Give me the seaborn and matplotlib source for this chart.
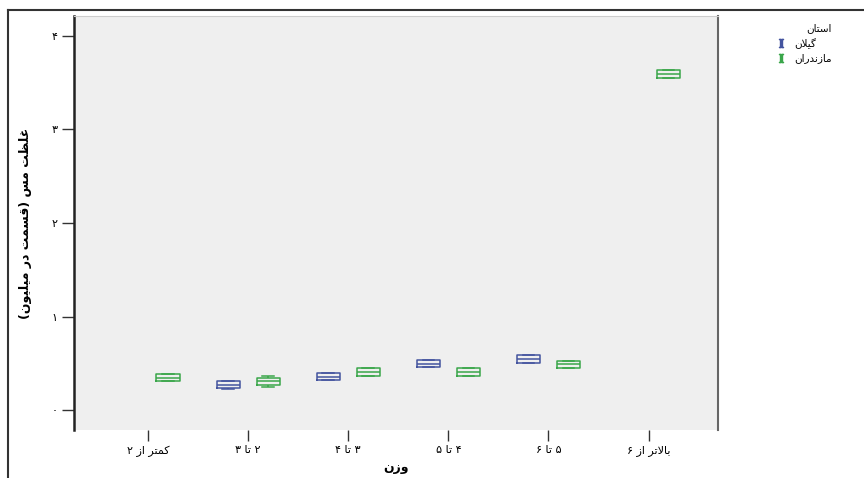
import matplotlib
matplotlib.use("Agg")
import matplotlib.pyplot as plt
from matplotlib.lines import Line2D
import seaborn as sns
import pandas as pd

# --- data (box: min, q1, median, q3, max) ---
weight_groups = ["کمتر از ۲", "۲ تا ۳", "۳ تا ۴", "۴ تا ۵", "۵ تا ۶", "بالاتر از ۶"]
provinces = ["گیلان", "مازندران"]

gilan_boxes = {
    "۲ تا ۳": [0.23, 0.24, 0.27, 0.31, 0.31],
    "۳ تا ۴": [0.32, 0.32, 0.36, 0.40, 0.40],
    "۴ تا ۵": [0.46, 0.46, 0.50, 0.54, 0.54],
    "۵ تا ۶": [0.51, 0.51, 0.55, 0.59, 0.59],
}
mazandaran_boxes = {
    "کمتر از ۲": [0.31, 0.31, 0.35, 0.39, 0.39],
    "۲ تا ۳": [0.25, 0.27, 0.31, 0.35, 0.37],
    "۳ تا ۴": [0.37, 0.37, 0.41, 0.45, 0.45],
    "۴ تا ۵": [0.37, 0.37, 0.41, 0.45, 0.45],
    "۵ تا ۶": [0.45, 0.45, 0.49, 0.53, 0.53],
    "بالاتر از ۶": [3.55, 3.55, 3.59, 3.63, 3.63],
}
y_ticks = [0, 1, 2, 3, 4]
y_ticklabels = ["۰", "۱", "۲", "۳", "۴"]
colors = {"گیلان": "#44549f", "مازندران": "#3aa64a"}

# --- small Persian shaper (matplotlib has no Arabic shaping / bidi) ---
FORMS = {
    "ا": ("\uFE8D", "\uFE8E", None, None),
    "ب": ("\uFE8F", "\uFE90", "\uFE91", "\uFE92"),
    "ت": ("\uFE95", "\uFE96", "\uFE97", "\uFE98"),
    "د": ("\uFEA9", "\uFEAA", None, None),
    "ر": ("\uFEAD", "\uFEAE", None, None),
    "ز": ("\uFEAF", "\uFEB0", None, None),
    "س": ("\uFEB1", "\uFEB2", "\uFEB3", "\uFEB4"),
    "ظ": ("\uFEC5", "\uFEC6", "\uFEC7", "\uFEC8"),
    "غ": ("\uFECD", "\uFECE", "\uFECF", "\uFED0"),
    "ق": ("\uFED5", "\uFED6", "\uFED7", "\uFED8"),
    "ل": ("\uFEDD", "\uFEDE", "\uFEDF", "\uFEE0"),
    "م": ("\uFEE1", "\uFEE2", "\uFEE3", "\uFEE4"),
    "ن": ("\uFEE5", "\uFEE6", "\uFEE7", "\uFEE8"),
    "و": ("\uFEED", "\uFEEE", None, None),
    "ک": ("\uFB8E", "\uFB8F", "\uFB90", "\uFB91"),
    "گ": ("\uFB92", "\uFB93", "\uFB94", "\uFB95"),
    "ی": ("\uFBFC", "\uFBFD", "\uFBFE", "\uFBFF"),
}


def fa(text):
    out = []
    i = 0
    n = len(text)
    while i < n:
        c = text[i]
        if c not in FORMS:
            out.append(c)
            i += 1
            continue
        prev = text[i - 1] if i > 0 else None
        con_prev = prev in FORMS and FORMS[prev][2] is not None
        if c == "ل" and i + 1 < n and text[i + 1] == "ا":
            out.append("\uFEFC" if con_prev else "\uFEFB")
            i += 2
            continue
        nxt = text[i + 1] if i + 1 < n else None
        iso, fin, ini, med = FORMS[c]
        con_next = ini is not None and nxt in FORMS
        if con_prev and con_next:
            out.append(med)
        elif con_prev:
            out.append(fin)
        elif con_next:
            out.append(ini)
        else:
            out.append(iso)
        i += 1
    vis = "".join(out)[::-1]
    return vis.translate(str.maketrans("()", ")("))


# --- long table for seaborn ---
rows = []
for grp, vals in gilan_boxes.items():
    rows += [(grp, "گیلان", v) for v in vals]
for grp, vals in mazandaran_boxes.items():
    rows += [(grp, "مازندران", v) for v in vals]
df = pd.DataFrame(rows, columns=["weight", "province", "copper"])

plt.rcParams["font.family"] = ["DejaVu Sans"]
plt.rcParams["mathtext.fontset"] = "dejavuserif"
fig = plt.figure(figsize=(8.64, 4.78), dpi=100)
ax = fig.add_axes([0.0856, 0.1004, 0.745, 0.866])
ax.set_facecolor("#efefef")

sns.boxplot(data=df, x="weight", y="copper", hue="province",
            order=weight_groups, hue_order=provinces, palette=colors,
            fill=False, width=0.8, gap=0.42, linewidth=1.1,
            whis=1.5, showfliers=False, legend=False, ax=ax)

ax.set_xlim(-0.74, 5.69)
ax.set_ylim(-0.21, 4.21)
ax.set_yticks(y_ticks)
ax.set_yticklabels(y_ticklabels, fontsize=8)
ax.set_xticks(range(len(weight_groups)))
ax.set_xticklabels([fa(g) for g in weight_groups], fontsize=8)
ax.tick_params(axis="y", length=9, width=1, color="#333333", pad=3)
ax.tick_params(axis="x", length=8, width=1, color="#333333", pad=3)

ax.set_xlabel(fa("وزن"), fontsize=9, fontweight="bold", labelpad=3)
ax.set_ylabel(fa("غلظت مس (قسمت در میلیون)"), fontsize=9, fontweight="bold", labelpad=14)

ax.spines["left"].set_color("#222222")
ax.spines["left"].set_linewidth(1.8)
ax.spines["right"].set_color("#666666")
ax.spines["right"].set_linewidth(1.5)
ax.spines["top"].set_color("#cccccc")
ax.spines["top"].set_linewidth(0.8)
ax.spines["bottom"].set_visible(False)

# legend
handles = [Line2D([], [], linestyle="none", marker="$\\mathrm{I}$", markersize=6,
                  color=colors[p]) for p in provinces]
leg = ax.legend(handles, [fa(p) for p in provinces], title=fa("استان"),
                loc="upper left", bbox_to_anchor=(774 / 864, 1 - 20 / 478),
                bbox_transform=fig.transFigure, frameon=False, fontsize=7.5,
                title_fontsize=7.5, handlelength=0.8, handletextpad=0.8,
                labelspacing=0.45, borderpad=0.3, borderaxespad=0,
                alignment="right")

# outer frame (top and left edges visible)
fig.add_artist(Line2D([8 / 864, 8 / 864], [0, 1 - 10 / 478], color="#333333",
                      lw=1.5, transform=fig.transFigure))
fig.add_artist(Line2D([8 / 864, 1], [1 - 10 / 478, 1 - 10 / 478], color="#333333",
                      lw=1.5, transform=fig.transFigure))

fig.savefig("out.png", dpi=100)
